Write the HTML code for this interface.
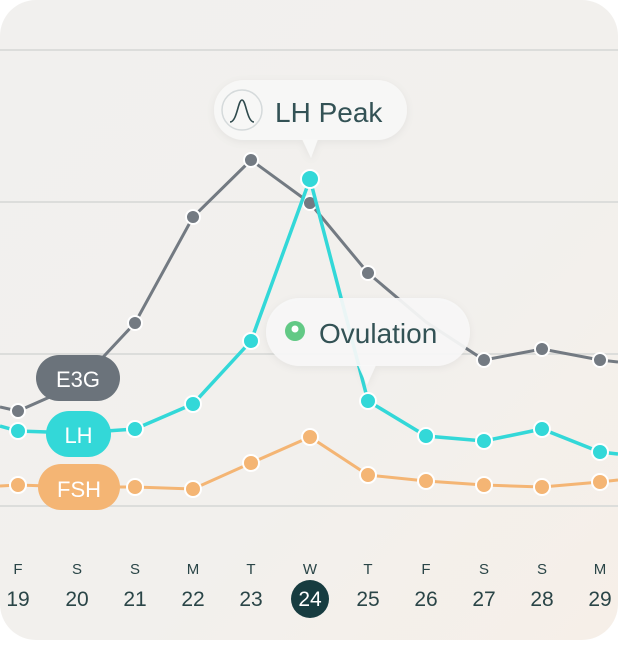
<!DOCTYPE html>
<html><head><style>
html,body{margin:0;padding:0;background:#fff;}
body{width:618px;height:640px;overflow:hidden;font-family:"Liberation Sans",sans-serif;}
</style></head><body>
<svg width="618" height="640" viewBox="0 0 618 640" xmlns="http://www.w3.org/2000/svg" font-family="Liberation Sans, sans-serif">
<defs>
<linearGradient id="bg" x1="0" y1="0" x2="1" y2="1">
<stop offset="0" stop-color="#f1f0ee"/><stop offset="0.6" stop-color="#f2f0ed"/><stop offset="1" stop-color="#f6efe8"/>
</linearGradient>
<filter id="sh" x="-20%" y="-30%" width="140%" height="160%"><feDropShadow dx="0" dy="2" stdDeviation="4" flood-color="#000" flood-opacity="0.06"/></filter>
</defs>
<rect x="0" y="0" width="618" height="640" rx="36" fill="url(#bg)"/>
<g stroke="#dcdddb" stroke-width="2">
<line x1="0" y1="50" x2="618" y2="50"/><line x1="0" y1="202" x2="618" y2="202"/>
<line x1="0" y1="354" x2="618" y2="354"/><line x1="0" y1="506" x2="618" y2="506"/>
</g>
<!-- E3G -->
<polyline fill="none" stroke="#737a82" stroke-width="3" points="0,407 18,411 77,385 135,323 193,217 251,160 310,203 368,273 426,322 484,360 542,349 600,360 618,362"/>
<g fill="#737a82" stroke="#fff" stroke-width="2">
<circle cx="18" cy="411" r="7"/><circle cx="135" cy="323" r="7"/><circle cx="193" cy="217" r="7"/><circle cx="251" cy="160" r="7"/><circle cx="310" cy="203" r="7"/><circle cx="368" cy="273" r="7"/><circle cx="484" cy="360" r="7"/><circle cx="542" cy="349" r="7"/><circle cx="600" cy="360" r="7"/>
</g>
<!-- FSH -->
<polyline fill="none" stroke="#f4b574" stroke-width="3" points="0,486 18,485 77,487 135,487 193,489 251,463 310,437 368,475 426,481 484,485 542,487 600,482 618,480"/>
<g fill="#f4b574" stroke="#fff" stroke-width="2">
<circle cx="18" cy="485" r="8"/><circle cx="135" cy="487" r="8"/><circle cx="193" cy="489" r="8"/><circle cx="251" cy="463" r="8"/><circle cx="310" cy="437" r="8"/><circle cx="368" cy="475" r="8"/><circle cx="426" cy="481" r="8"/><circle cx="484" cy="485" r="8"/><circle cx="542" cy="487" r="8"/><circle cx="600" cy="482" r="8"/>
</g>
<!-- LH -->
<polyline fill="none" stroke="#33d8d8" stroke-width="3.5" points="0,426 18,431 77,433 135,429 193,404 251,341 310,179 368,401 426,436 484,441 542,429 600,452 618,454"/>
<g fill="#33d8d8" stroke="#fff" stroke-width="2">
<circle cx="18" cy="431" r="8"/><circle cx="135" cy="429" r="8"/><circle cx="193" cy="404" r="8"/><circle cx="251" cy="341" r="8"/><circle cx="310" cy="179" r="9"/><circle cx="368" cy="401" r="8"/><circle cx="426" cy="436" r="8"/><circle cx="484" cy="441" r="8"/><circle cx="542" cy="429" r="8"/><circle cx="600" cy="452" r="8"/>
</g>
<!-- pills -->
<rect x="36" y="355" width="84" height="46" rx="23" fill="#6b737b"/>
<text x="78" y="387" text-anchor="middle" font-size="22" fill="#fff">E3G</text>
<rect x="46" y="411" width="65" height="46" rx="23" fill="#33d8d8"/>
<text x="78.5" y="443" text-anchor="middle" font-size="22" fill="#fff">LH</text>
<rect x="38" y="464" width="82" height="46" rx="23" fill="#f4b574"/>
<text x="79" y="497" text-anchor="middle" font-size="22" fill="#fff">FSH</text>
<!-- LH Peak bubble -->
<g filter="url(#sh)">
<rect x="214" y="80" width="193" height="60" rx="30" fill="#f8f8f7" fill-opacity="0.95"/>
<path d="M302,139 L311,158 L318,139 Z" fill="#f8f8f7"/>
</g>
<circle cx="242" cy="110" r="20" fill="none" stroke="#d5dadb" stroke-width="1.5"/>
<path d="M230,122 C237,122 238,100 242,100 C246,100 247,122 254,122" fill="none" stroke="#2f4a4d" stroke-width="1.6"/>
<text x="275" y="122" font-size="28" fill="#335255">LH Peak</text>
<!-- Ovulation bubble -->
<g filter="url(#sh)">
<rect x="266" y="298" width="204" height="68" rx="34" fill="#f8f8f7" fill-opacity="0.93"/>
<path d="M358,365 L367,385 L376,365 Z" fill="#f8f8f7" fill-opacity="0.93"/>
</g>
<circle cx="295" cy="331" r="10" fill="#62c985"/>
<circle cx="295" cy="329" r="3.5" fill="#fff"/>
<text x="319" y="343" font-size="28" fill="#335255">Ovulation</text>
<!-- axis labels -->
<g font-size="15" fill="#2a4547" text-anchor="middle">
<text x="18" y="574">F</text><text x="77" y="574">S</text><text x="135" y="574">S</text><text x="193" y="574">M</text><text x="251" y="574">T</text><text x="310" y="574">W</text><text x="368" y="574">T</text><text x="426" y="574">F</text><text x="484" y="574">S</text><text x="542" y="574">S</text><text x="600" y="574">M</text>
</g>
<circle cx="310" cy="599" r="19" fill="#173c40"/>
<g font-size="21" fill="#2a4547" text-anchor="middle">
<text x="18" y="606">19</text><text x="77" y="606">20</text><text x="135" y="606">21</text><text x="193" y="606">22</text><text x="251" y="606">23</text><text x="310" y="606" fill="#fff">24</text><text x="368" y="606">25</text><text x="426" y="606">26</text><text x="484" y="606">27</text><text x="542" y="606">28</text><text x="600" y="606">29</text>
</g>
</svg>
</body></html>
